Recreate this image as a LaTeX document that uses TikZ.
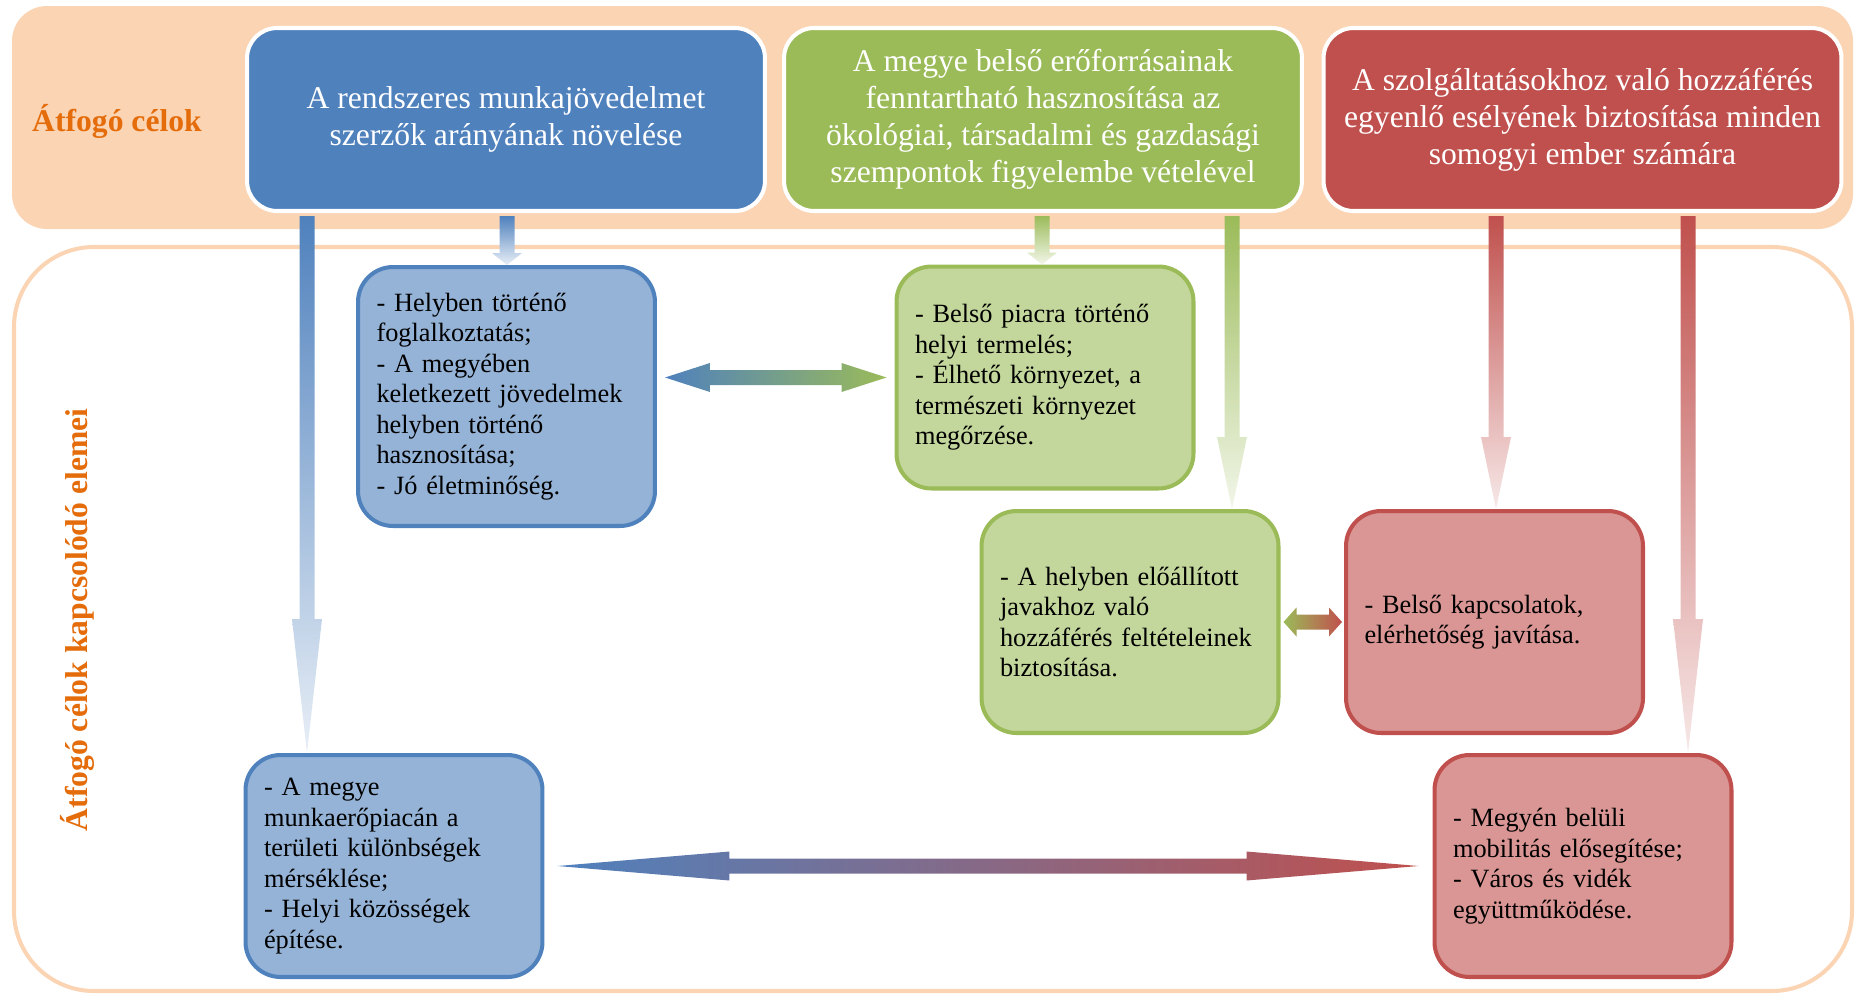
\documentclass[tikz,border=0pt]{standalone}
\usepackage{fontspec}
\setmainfont{Liberation Serif}
\usetikzlibrary{calc,shapes,positioning}
\definecolor{mblue}{HTML}{4F81BD}
\definecolor{mgreen}{HTML}{9BBB59}
\definecolor{mred}{HTML}{C0504D}
\definecolor{lblue}{HTML}{95B3D7}
\definecolor{lgreen}{HTML}{C3D69B}
\definecolor{lred}{HTML}{D99694}
\definecolor{peach}{HTML}{FBD4B4}
\definecolor{morange}{HTML}{E46C0A}
\tikzstyle{goal}=[rectangle, rounded corners=0.6cm, draw=white, line width=2.3pt, text=white, align=center, inner sep=0pt, minimum width=10.36cm, minimum height=3.66cm, font=\fontsize{18}{21}\selectfont]
\tikzstyle{elem}=[rectangle, rounded corners=0.7cm, line width=2.3pt, align=left, text width=5.2cm, inner xsep=0.37cm, inner ysep=0pt, minimum height=4.44cm, font=\fontsize{15}{17.4}\selectfont]
\tikzstyle{belem}=[elem, draw=mblue, fill=lblue]
\tikzstyle{gelem}=[elem, draw=mgreen, fill=lgreen]
\tikzstyle{relem}=[elem, draw=mred, fill=lred]
\tikzstyle{title}=[text=morange, font=\fontsize{18}{21}\selectfont\bfseries]
% fading arrow: start, tip, colour, head length
\newcommand{\fadedown}[4]{%
  \shade[top color=#3, bottom color=#3!13] ($(#1)+(-7.5,0)$) -- ($(#2)+(-7.5,-#4)$) -- ($(#2)+(-15,-#4)$) -- (#2)
    -- ($(#2)+(15,-#4)$) -- ($(#2)+(7.5,-#4)$) -- ($(#1)+(7.5,0)$) -- cycle;}
% double arrow: left tip, right tip, colours, head length
\newcommand{\fadeboth}[5]{%
  \shade[left color=#3, right color=#4] (#1) -- ($(#1)+(#5,14.5)$) -- ($(#1)+(#5,7.5)$) -- ($(#2)+(-#5,7.5)$)
    -- ($(#2)+(-#5,14.5)$) -- (#2) -- ($(#2)+(-#5,-14.5)$) -- ($(#2)+(-#5,-7.5)$) -- ($(#1)+(#5,-7.5)$)
    -- ($(#1)+(#5,-14.5)$) -- cycle;}

\begin{document}
\begin{tikzpicture}[x=0.02cm, y=-0.02cm]
    \useasboundingbox (0,0) rectangle (1856,994);
    \fill[peach, rounded corners=0.7cm] (12,6) rectangle (1853,229);
    \draw[peach, line width=2.3pt, rounded corners=1.6cm] (14,247) rectangle (1852,991);

    \node (lab1) [title] at (117,121) {Átfogó célok};
    \node (lab2) [title, rotate=90] at (77,620) {Átfogó célok kapcsolódó elemei};

    \node (top1) [goal, fill=mblue] at (506,119.5) {A rendszeres munkajövedelmet\\szerzők arányának növelése};
    \node (top2) [goal, fill=mgreen] at (1043,119.5) {A megye belső erőforrásainak\\fenntartható hasznosítása az\\ökológiai, társadalmi és gazdasági\\szempontok figyelembe vételével};
    \node (top3) [goal, fill=mred] at (1582.5,119.5) {A szolgáltatásokhoz való hozzáférés\\egyenlő esélyének biztosítása minden\\somogyi ember számára};

    \node (b1) [belem, minimum height=5.18cm] at (506.5,396.5) {- Helyben történő\\foglalkoztatás;\\- A megyében\\keletkezett jövedelmek\\helyben történő\\hasznosítása;\\- Jó életminőség.};
    \node (g1) [gelem] at (1045,377.5) {- Belső piacra történő\\helyi termelés;\\- Élhető környezet, a\\természeti környezet\\megőrzése.};
    \node (g2) [gelem] at (1130,622) {- A helyben előállított\\javakhoz való\\hozzáférés feltételeinek\\biztosítása.};
    \node (r1) [relem] at (1494.5,622) {- Belső kapcsolatok,\\elérhetőség javítása.};
    \node (b2) [belem] at (394,866) {- A megye\\munkaerőpiacán a\\területi különbségek\\mérséklése;\\- Helyi közösségek\\építése.};
    \node (r2) [relem] at (1583,866) {- Megyén belüli\\mobilitás elősegítése;\\- Város és vidék\\együttműködése.};

    \coordinate (s1) at (307,216);
    \coordinate (s2) at (507,216);
    \coordinate (s3) at (1042,216);
    \coordinate (s4) at (1232,216);
    \coordinate (s5) at (1496,216);
    \coordinate (s6) at (1688,216);
    \coordinate (e1) at (s1 |- b2.north);
    \coordinate (e2) at (s2 |- b1.north);
    \coordinate (e3) at (s3 |- g1.north);
    \coordinate (e4) at (s4 |- g2.north);
    \coordinate (e5) at (s5 |- r1.north);
    \coordinate (e6) at (s6 |- r2.north);
    \fadedown{s1}{e1}{mblue}{134}
    \fadedown{s2}{e2}{mblue}{12}
    \fadedown{s3}{e3}{mgreen}{12}
    \fadedown{s4}{e4}{mgreen}{72}
    \fadedown{s5}{e5}{mred}{72}
    \fadedown{s6}{e6}{mred}{134}

    \coordinate (h1) at ($(b1.east |- g1.west)+(8,0)$);
    \coordinate (h2) at ($(g1.west)+(-8,0)$);
    \coordinate (h3) at ($(g2.east)+(3,0)$);
    \coordinate (h4) at ($(r1.west)+(-2,0)$);
    \coordinate (h5) at ($(b2.east)+(13,0)$);
    \coordinate (h6) at ($(r2.west)+(-14,0)$);
    \fadeboth{h1}{h2}{mblue}{mgreen}{45}
    \fadeboth{h3}{h4}{mgreen}{mred}{13}
    \fadeboth{h5}{h6}{mblue}{mred}{172}
\end{tikzpicture}
\end{document}
